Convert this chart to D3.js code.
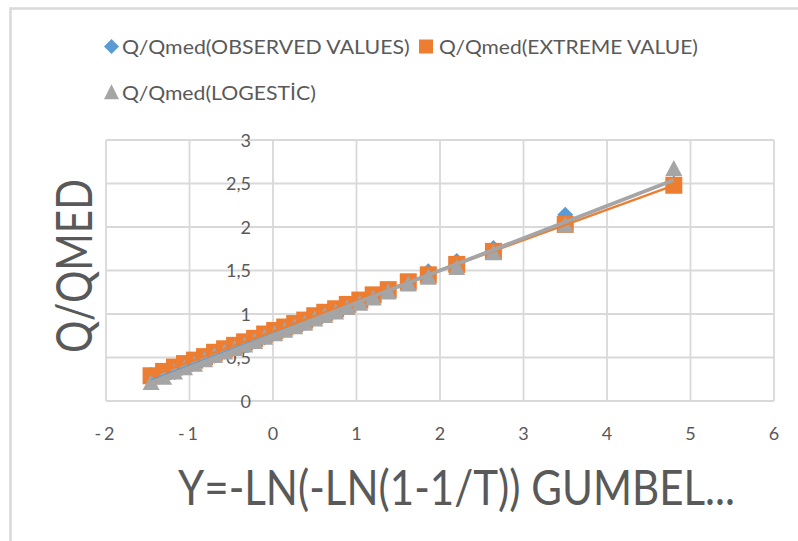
<!DOCTYPE html>
<html>
<head>
<meta charset="utf-8">
<script src="https://cdn.jsdelivr.net/npm/d3@7/dist/d3.min.js"></script>
<style>
  html, body { margin: 0; padding: 0; background: #ffffff; }
  svg { display: block; }
  text { font-family: Lato, "Open Sans", "DejaVu Sans", sans-serif; fill: #595959; }
</style>
</head>
<body>
<svg id="chart" width="798" height="541"></svg>
<script>
// Gumbel reduced variate Y = -ln(-ln(1-1/T)) for each ranked flood
const gumbelY = [-1.46, -1.31, -1.18, -1.06, -0.94, -0.82, -0.70, -0.58, -0.46, -0.34,
                 -0.22, -0.10, 0.02, 0.14, 0.26, 0.38, 0.50, 0.62, 0.75, 0.89,
                 1.04, 1.20, 1.38, 1.62, 1.86, 2.20, 2.64, 3.50, 4.80];

// Q/Qmed ratios: observed and the two fitted distributions
const qObserved = [0.30, 0.31, 0.33, 0.40, 0.44, 0.48, 0.52, 0.57, 0.61, 0.65,
                   0.69, 0.73, 0.78, 0.82, 0.86, 0.90, 0.95, 0.99, 1.03, 1.08,
                   1.14, 1.20, 1.27, 1.37, 1.49, 1.61, 1.76, 2.14, 2.50];
const qExtreme  = [0.29, 0.34, 0.39, 0.43, 0.47, 0.51, 0.56, 0.60, 0.64, 0.68,
                   0.72, 0.77, 0.81, 0.85, 0.89, 0.93, 0.98, 1.02, 1.06, 1.11,
                   1.16, 1.22, 1.28, 1.37, 1.45, 1.57, 1.72, 2.03, 2.48];
const qLogistic = [0.21, 0.27, 0.33, 0.38, 0.42, 0.47, 0.52, 0.56, 0.60, 0.64,
                   0.68, 0.73, 0.77, 0.81, 0.85, 0.89, 0.94, 0.98, 1.02, 1.07,
                   1.12, 1.18, 1.25, 1.34, 1.42, 1.53, 1.70, 2.02, 2.67];

const seriesNames = ["Q/Qmed(OBSERVED VALUES)", "Q/Qmed(EXTREME VALUE)", "Q/Qmed(LOGESTİC)"];
const seriesColors = ["#5B9BD5", "#ED7D31", "#A5A5A5"];

const xTicks = [-2, -1, 0, 1, 2, 3, 4, 5, 6];
const yTicks = [0, 0.5, 1, 1.5, 2, 2.5, 3];
const xTitle = "Y=-LN(-LN(1-1/T)) GUMBEL...";
const yTitle = "Q/QMED";

const svg = d3.select("#chart");
const W = 798, H = 541;

svg.append("rect").attr("width", W).attr("height", H).attr("fill", "#ffffff");

// outer chart frame
svg.append("rect")
  .attr("x", 10.5).attr("y", 8.5)
  .attr("width", W + 20).attr("height", H + 20)
  .attr("fill", "none").attr("stroke", "#d9d9d9").attr("stroke-width", 2.5);

const x = d3.scaleLinear().domain([-2, 6]).range([106, 774]);
const y = d3.scaleLinear().domain([0, 3]).range([401, 140]);

const locale = d3.formatLocale({ decimal: ",", thousands: ".", grouping: [3], currency: ["", ""], minus: "-" });
const fmt = locale.format("~g");

// squeeze a text horizontally so it spans the given width
function fitWidth(sel, width, px, py, rotate) {
  const len = sel.node().getComputedTextLength();
  const k = width / len;
  sel.attr("transform", `translate(${px},${py})${rotate ? ` rotate(${rotate})` : ""} scale(${k},1)`);
}

// gridlines
const grid = svg.append("g").attr("stroke", "#d9d9d9").attr("stroke-width", 1.8);
grid.selectAll("line.v").data(xTicks).join("line")
  .attr("x1", d => x(d)).attr("x2", d => x(d))
  .attr("y1", y(0)).attr("y2", y(3));
grid.selectAll("line.h").data(yTicks).join("line")
  .attr("x1", x(-2)).attr("x2", x(6))
  .attr("y1", d => y(d)).attr("y2", d => y(d));

// x tick labels
svg.append("g").selectAll("text").data(xTicks).join("text")
  .attr("x", d => x(d)).attr("y", 440)
  .attr("text-anchor", "middle")
  .attr("font-size", 18)
  .attr("letter-spacing", d => d < 0 ? 3 : 0)
  .text(d => fmt(d));

// y tick labels, placed beside the vertical axis at x = 0
svg.append("g").selectAll("text").data(yTicks).join("text")
  .attr("x", x(0) - 22).attr("y", d => y(d) + 6.5)
  .attr("text-anchor", "end")
  .attr("font-size", 18)
  .text(d => fmt(d));

// marker shapes
const diamond = r => `M0,${-r}L${r},0L0,${r}L${-r},0Z`;
const triangle = (w, h) => `M0,${-h * 0.55}L${w / 2},${h * 0.45}L${-w / 2},${h * 0.45}Z`;

const pts = (vals) => gumbelY.map((g, i) => ({ gx: g, q: vals[i] }));

const marks = svg.append("g");
marks.append("g").selectAll("path").data(pts(qObserved)).join("path")
  .attr("d", diamond(8))
  .attr("transform", d => `translate(${x(d.gx)},${y(d.q)})`)
  .attr("fill", seriesColors[0]);
marks.append("g").selectAll("rect").data(pts(qExtreme)).join("rect")
  .attr("x", d => x(d.gx) - 8.5).attr("y", d => y(d.q) - 8.5)
  .attr("width", 17).attr("height", 17)
  .attr("fill", seriesColors[1]);
marks.append("g").selectAll("path").data(pts(qLogistic)).join("path")
  .attr("d", triangle(17, 16))
  .attr("transform", d => `translate(${x(d.gx)},${y(d.q)})`)
  .attr("fill", seriesColors[2]);

// linear trendlines (least squares) over each series' range
function trend(xs, ys) {
  const n = xs.length;
  const mx = d3.mean(xs), my = d3.mean(ys);
  let sxy = 0, sxx = 0;
  for (let i = 0; i < n; i++) { sxy += (xs[i] - mx) * (ys[i] - my); sxx += (xs[i] - mx) ** 2; }
  const b = sxy / sxx, a = my - b * mx;
  const [x0, x1] = d3.extent(xs);
  return [[x0, a + b * x0], [x1, a + b * x1]];
}
const line = d3.line().x(d => x(d[0])).y(d => y(d[1]));
const trendWidths = [1.4, 2.4, 3.8];
[qObserved, qExtreme, qLogistic].forEach((vals, i) => {
  svg.append("path")
    .attr("d", line(trend(gumbelY, vals)))
    .attr("fill", "none")
    .attr("stroke", seriesColors[i])
    .attr("stroke-width", trendWidths[i]);
});

// axis titles
const yTitleText = svg.append("text")
  .attr("text-anchor", "middle")
  .attr("font-size", 50)
  .text(yTitle);
fitWidth(yTitleText, 174, 92, 266, -90);

const xTitleText = svg.append("text")
  .attr("font-size", 49)
  .text(xTitle);
fitWidth(xTitleText, 557, 178, 505);

// legend
const legend = svg.append("g").attr("font-size", 20);
legend.append("path").attr("d", diamond(7.5))
  .attr("transform", "translate(111.5,46.5)").attr("fill", seriesColors[0]);
fitWidth(legend.append("text").text(seriesNames[0]), 288, 122, 54);
legend.append("rect").attr("x", 419).attr("y", 39.5).attr("width", 14).attr("height", 14)
  .attr("fill", seriesColors[1]);
fitWidth(legend.append("text").text(seriesNames[1]), 259, 439, 54);
legend.append("path").attr("d", triangle(15, 15))
  .attr("transform", "translate(111.5,92.5)").attr("fill", seriesColors[2]);
fitWidth(legend.append("text").text(seriesNames[2]), 194, 122, 99.5);
</script>
</body>
</html>
